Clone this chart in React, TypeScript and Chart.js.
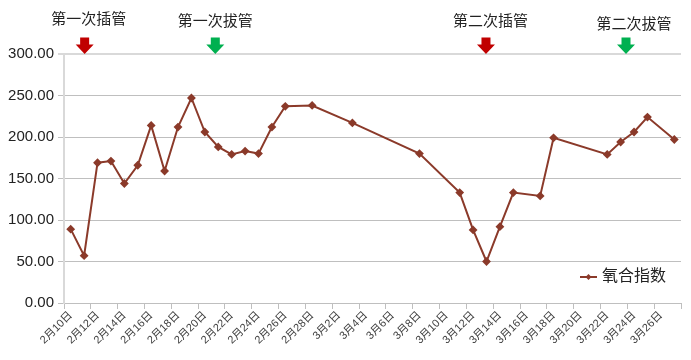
import React, { useEffect, useRef } from 'react';
import { Chart, registerables } from 'chart.js';

Chart.register(...registerables);

// Category axis: one slot per day, 2月10日 .. 3月27日
const categories = [
  '2月10日', '2月11日', '2月12日', '2月13日', '2月14日', '2月15日', '2月16日', '2月17日', '2月18日', '2月19日',
  '2月20日', '2月21日', '2月22日', '2月23日', '2月24日', '2月25日', '2月26日', '2月27日', '2月28日',
  '3月1日', '3月2日', '3月3日', '3月4日', '3月5日', '3月6日', '3月7日', '3月8日', '3月9日', '3月10日',
  '3月11日', '3月12日', '3月13日', '3月14日', '3月15日', '3月16日', '3月17日', '3月18日', '3月19日', '3月20日',
  '3月21日', '3月22日', '3月23日', '3月24日', '3月25日', '3月26日', '3月27日',
];

// 氧合指数 (null = no measurement that day)
const oxygenIndex: (number | null)[] = [
  89, 57, 169, 171, 144, 166, 214, 159, 212, 247,
  206, 188, 179, 183, 180, 212, 237, null, 238,
  null, null, 217, null, null, null, null, 180, null, null,
  133, 88, 50, 92, 133, null, 129, 199, null, null,
  null, 179, 194, 206, 224, null, 197,
];

const seriesName = '氧合指数';
const yMin = 0;
const yMax = 300;
const yStep = 50;

// Event annotations (positions in category index units)
const eventLabels = ['第一次插管', '第一次拔管', '第二次插管', '第二次拔管'];
const eventArrowAt = [1.04, 10.78, 30.96, 41.4];
const eventTextAt = [1.34, 10.78, 31.3, 42.0];
const eventColors = ['#c00000', '#00b050', '#c00000', '#00b050'];

const FONT = "'Liberation Sans', Arial, 'Noto Sans CJK SC', sans-serif";
const LINE_COLOR = '#8b3a2a';

const overlayPlugin = {
  id: 'overlay',
  afterDraw(chart: any) {
    const { ctx, chartArea, scales } = chart;
    const x = scales.x;
    const textY = [20, 21.5, 22, 25];
    ctx.save();
    // event arrows + labels
    eventLabels.forEach((label, i) => {
      const ax = x.getPixelForValue(eventArrowAt[i]);
      const tip = chartArea.top;
      const top = tip - 16.5;
      const headTop = tip - 9.5;
      ctx.fillStyle = eventColors[i];
      ctx.beginPath();
      ctx.moveTo(ax - 4.5, top);
      ctx.lineTo(ax + 4.5, top);
      ctx.lineTo(ax + 4.5, headTop);
      ctx.lineTo(ax + 9, headTop);
      ctx.lineTo(ax, tip);
      ctx.lineTo(ax - 9, headTop);
      ctx.lineTo(ax - 4.5, headTop);
      ctx.closePath();
      ctx.fill();

      const tx = x.getPixelForValue(eventTextAt[i]);
      ctx.fillStyle = '#222';
      ctx.font = `15px ${FONT}`;
      ctx.textAlign = 'center';
      ctx.textBaseline = 'middle';
      ctx.fillText(label, tx, textY[i]);
    });

    // legend inside plot area, bottom right
    const ly = 277;
    const lx = chartArea.right - 101;
    ctx.strokeStyle = LINE_COLOR;
    ctx.lineWidth = 2;
    ctx.beginPath();
    ctx.moveTo(lx, ly);
    ctx.lineTo(lx + 17, ly);
    ctx.stroke();
    ctx.fillStyle = LINE_COLOR;
    ctx.beginPath();
    const cx = lx + 8.5;
    ctx.moveTo(cx, ly - 3);
    ctx.lineTo(cx + 3, ly);
    ctx.lineTo(cx, ly + 3);
    ctx.lineTo(cx - 3, ly);
    ctx.closePath();
    ctx.fill();
    ctx.fillStyle = '#222';
    ctx.font = `16px ${FONT}`;
    ctx.textAlign = 'left';
    ctx.textBaseline = 'middle';
    ctx.fillText(seriesName, lx + 22, ly);
    ctx.restore();
  },
};

export default function App() {
  const canvasRef = useRef<HTMLCanvasElement | null>(null);

  useEffect(() => {
    if (!canvasRef.current) return;
    const chart = new Chart(canvasRef.current, {
      type: 'line',
      data: {
        labels: categories,
        datasets: [
          {
            label: seriesName,
            data: oxygenIndex,
            borderColor: LINE_COLOR,
            backgroundColor: LINE_COLOR,
            borderWidth: 2,
            pointStyle: 'rectRot',
            pointRadius: 3,
            pointHoverRadius: 3,
            spanGaps: true,
            tension: 0,
          },
        ],
      },
      options: {
        responsive: false,
        animation: false,
        devicePixelRatio: 1,
        layout: { padding: { top: 54, right: 10, bottom: 0, left: 0 } },
        plugins: {
          legend: { display: false },
          tooltip: { enabled: false },
        },
        scales: {
          x: {
            type: 'category',
            offset: true,
            afterFit: (scale: any) => {
              scale.height = 57;
            },
            grid: {
              offset: true,
              drawOnChartArea: false,
              drawTicks: true,
              tickLength: 6,
              color: (ctx: any) =>
                ctx.index === undefined || ctx.index % 2 === 0 ? '#bfbfbf' : 'rgba(0,0,0,0)',
            },
            border: { color: '#bfbfbf', width: 1 },
            ticks: {
              autoSkip: false,
              minRotation: 45,
              maxRotation: 45,
              padding: 0,
              color: '#404040',
              font: { family: FONT, size: 11 },
              callback: (_v: any, i: number) => (i % 2 === 0 ? categories[i] : ''),
            },
          },
          y: {
            min: yMin,
            max: yMax,
            afterFit: (scale: any) => {
              scale.width = 64;
            },
            ticks: {
              stepSize: yStep,
              padding: 4,
              color: '#222',
              font: { family: FONT, size: 15 },
              callback: (v: any) => Number(v).toFixed(2),
            },
            grid: {
              drawTicks: true,
              tickLength: 6,
              color: (ctx: any) => (ctx.tick && ctx.tick.value === yMax ? '#d9d9d9' : '#bfbfbf'),
              lineWidth: (ctx: any) => (ctx.tick && ctx.tick.value === yMax ? 2 : 1),
            },
            border: { color: '#d9d9d9', width: 2 },
          },
        },
      },
      plugins: [overlayPlugin],
    });
    return () => chart.destroy();
  }, []);

  return (
    <div style={{ width: 691, height: 360 }}>
      <canvas
        ref={canvasRef}
        width={691}
        height={360}
        style={{ position: 'fixed', left: 0, top: 0, width: 691, height: 360, background: '#fff' }}
      />
    </div>
  );
}
